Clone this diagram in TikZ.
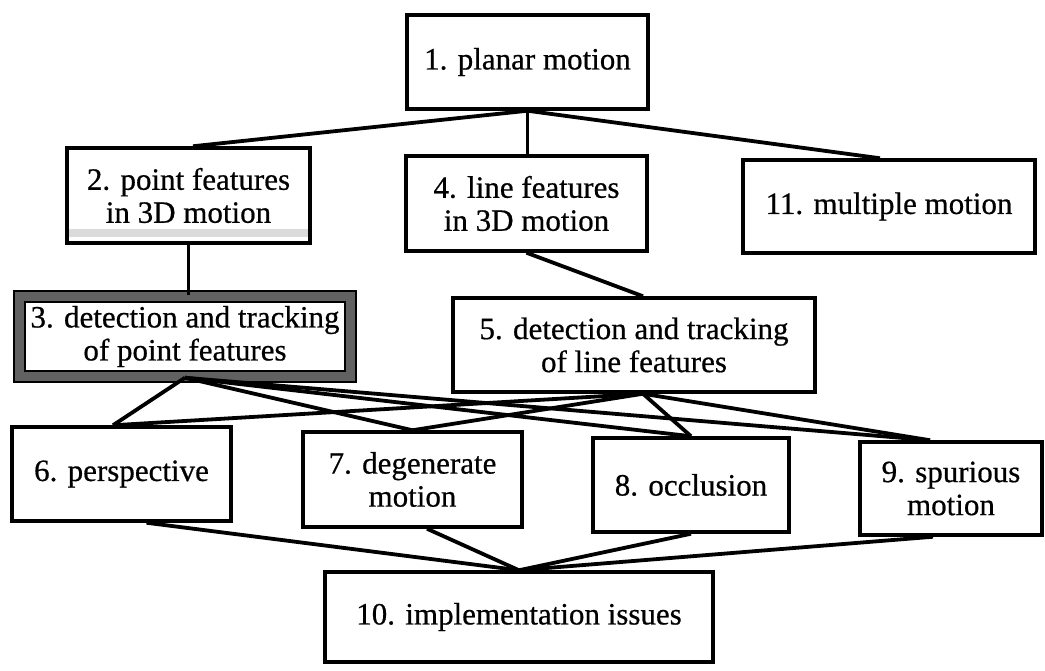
\documentclass[tikz,border=0pt]{standalone}
\usepackage{fontspec}
\setmainfont[FakeBold=0.6]{Liberation Serif}
\begin{document}
\begin{tikzpicture}[x=1pt,y=1pt,
  box/.style={draw=black, line width=3.5pt, fill=white, align=center, inner sep=0pt,
              font=\fontsize{31}{33}\selectfont},
  conn/.style={line width=3.8pt, line join=round},
  thinconn/.style={line width=2.2pt}]
\useasboundingbox (0,0) rectangle (1045,-671);
\fill[white] (0,0) rectangle (1045,-671);

\node[box, minimum width=241pt, minimum height=94pt] (n1) at (527.5,-62) {1. planar motion};
\node[box, minimum width=243pt, minimum height=95pt] (n2) at (188.5,-195.5) {2. point features\\in 3D motion};
\fill[black!14] ([shift={(4,8)}]n2.south west) rectangle ([shift={(-4,16)}]n2.south east);
\node[box, minimum width=241pt, minimum height=95pt] (n4) at (526.5,-203.5) {4. line features\\in 3D motion};
\node[box, minimum width=292pt, minimum height=93pt] (n11) at (889,-206.5) {11. multiple motion};
\node[box, line width=2.5pt, double=black!62, double distance=8.5pt,
      minimum width=331pt, minimum height=80pt] (n3) at (185,-336.5) {3. detection and tracking\\of point features};
\node[box, minimum width=362pt, minimum height=94pt] (n5) at (634,-345) {5. detection and tracking\\of line features};
\node[box, minimum width=219pt, minimum height=94pt] (n6) at (121.5,-474) {6. perspective};
\node[box, minimum width=219pt, minimum height=95pt] (n7) at (412.5,-479.5) {7. degenerate\\motion};
\node[box, minimum width=196pt, minimum height=94pt] (n8) at (691,-485) {8. occlusion};
\node[box, minimum width=182pt, minimum height=93pt] (n9) at (951,-488.5) {9. spurious\\motion};
\node[box, minimum width=388pt, minimum height=90pt] (n10) at (519,-617) {10. implementation issues};

\draw[conn] (n1.south) -- ([xshift=4.5pt]n2.north);
\draw[thinconn] (n1.south) -- (n1.south |- n4.north);
\draw[conn] (n1.south) -- ([xshift=-9pt]n11.north);
\draw[thinconn] (n2.south) -- (n2.south |- n3.north);
\draw[conn] (n4.south) -- ([xshift=9pt]n5.north);

\draw[conn] (n3.south) -- ([xshift=-8.5pt]n6.north);
\draw[conn] (n3.south) -- (n7.north);
\draw[conn] (n3.south) -- (n8.north);
\draw[conn] (n3.south) -- ([xshift=-21pt]n9.north);
\draw[conn] ([xshift=9pt]n5.south) -- ([xshift=-8.5pt]n6.north);
\draw[conn] ([xshift=9pt]n5.south) -- (n7.north);
\draw[conn] ([xshift=9pt]n5.south) -- (n8.north);
\draw[conn] ([xshift=9pt]n5.south) -- ([xshift=-21pt]n9.north);

\draw[conn] ([xshift=25pt]n6.south) -- (n10.north);
\draw[conn] ([xshift=14.5pt]n7.south) -- (n10.north);
\draw[conn] (n8.south) -- (n10.north);
\draw[conn] ([xshift=-18pt]n9.south) -- (n10.north);
\end{tikzpicture}
\end{document}
